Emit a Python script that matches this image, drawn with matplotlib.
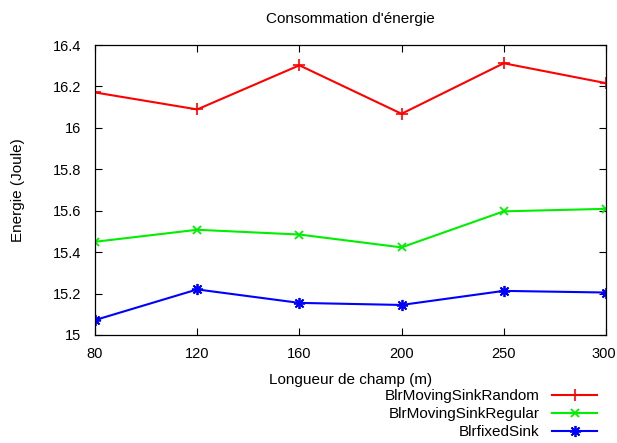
import matplotlib
matplotlib.use("Agg")
import matplotlib.pyplot as plt
import matplotlib.transforms as mtransforms
import numpy as np

plt.rcParams['font.family'] = ['Liberation Sans', 'DejaVu Sans']

# Field lengths (m) shown as evenly spaced categories
longueurs = ["80", "120", "160", "200", "250", "300"]

# Energy consumption (Joule) per scenario
moving_random = [16.171, 16.089, 16.302, 16.068, 16.312, 16.216]
moving_regular = [15.45, 15.508, 15.485, 15.423, 15.597, 15.609]
fixed_sink = [15.072, 15.22, 15.155, 15.145, 15.213, 15.205]

y_ticks = [15, 15.2, 15.4, 15.6, 15.8, 16, 16.2, 16.4]
y_tick_labels = ["15", "15.2", "15.4", "15.6", "15.8", "16", "16.2", "16.4"]

fig = plt.figure(figsize=(6.17, 4.43), dpi=100)
ax = fig.add_axes([0.154, 0.2438, 0.828, 0.6546])

x = np.arange(len(longueurs))
ax.plot(x, moving_random, color="#ff0000", lw=1.5, marker="+", ms=8, mew=1.2,
        label="BlrMovingSinkRandom")
ax.plot(x, moving_regular, color="#00ee00", lw=1.5, marker="x", ms=6, mew=1.3,
        label="BlrMovingSinkRegular")
ax.plot(x, fixed_sink, color="#0000ff", lw=1.5, marker=(8, 2, 0), ms=8, mew=1.3,
        label="BlrfixedSink")

ax.set_xlim(x[0], x[-1])
ax.set_ylim(15, 16.4)
ax.set_xticks(x)
ax.set_xticklabels(longueurs)
ax.set_yticks(y_ticks)
ax.set_yticklabels(y_tick_labels)
ax.tick_params(direction="in", top=True, right=True, length=5, width=0.8,
               labelsize=10.5)
ax.tick_params(axis="x", pad=9)
ax.tick_params(axis="y", pad=10)
for s in ax.spines.values():
    s.set_linewidth(0.9)

# nudge the last x label inward so it stays on the canvas
last = ax.get_xticklabels()[-1]
last.set_transform(last.get_transform() +
                   mtransforms.ScaledTranslation(-2 / 100, 0, fig.dpi_scale_trans))

ax.set_title("Consommation d'énergie", fontsize=11, pad=16)
ax.set_xlabel("Longueur de champ (m)", fontsize=11, labelpad=8)
ax.set_ylabel("Energie (Joule)", fontsize=11, labelpad=20)

leg = ax.legend(loc="upper right", bbox_to_anchor=(0.982, -0.186),
                frameon=False, markerfirst=False, fontsize=11,
                handlelength=2.9, handletextpad=0.85, labelspacing=0.28,
                borderaxespad=0, borderpad=0)
# right-align the legend rows so labels end flush against their samples
leg._legend_box._children[-1]._children[0].align = "right"

fig.savefig("out.png", dpi=100)
